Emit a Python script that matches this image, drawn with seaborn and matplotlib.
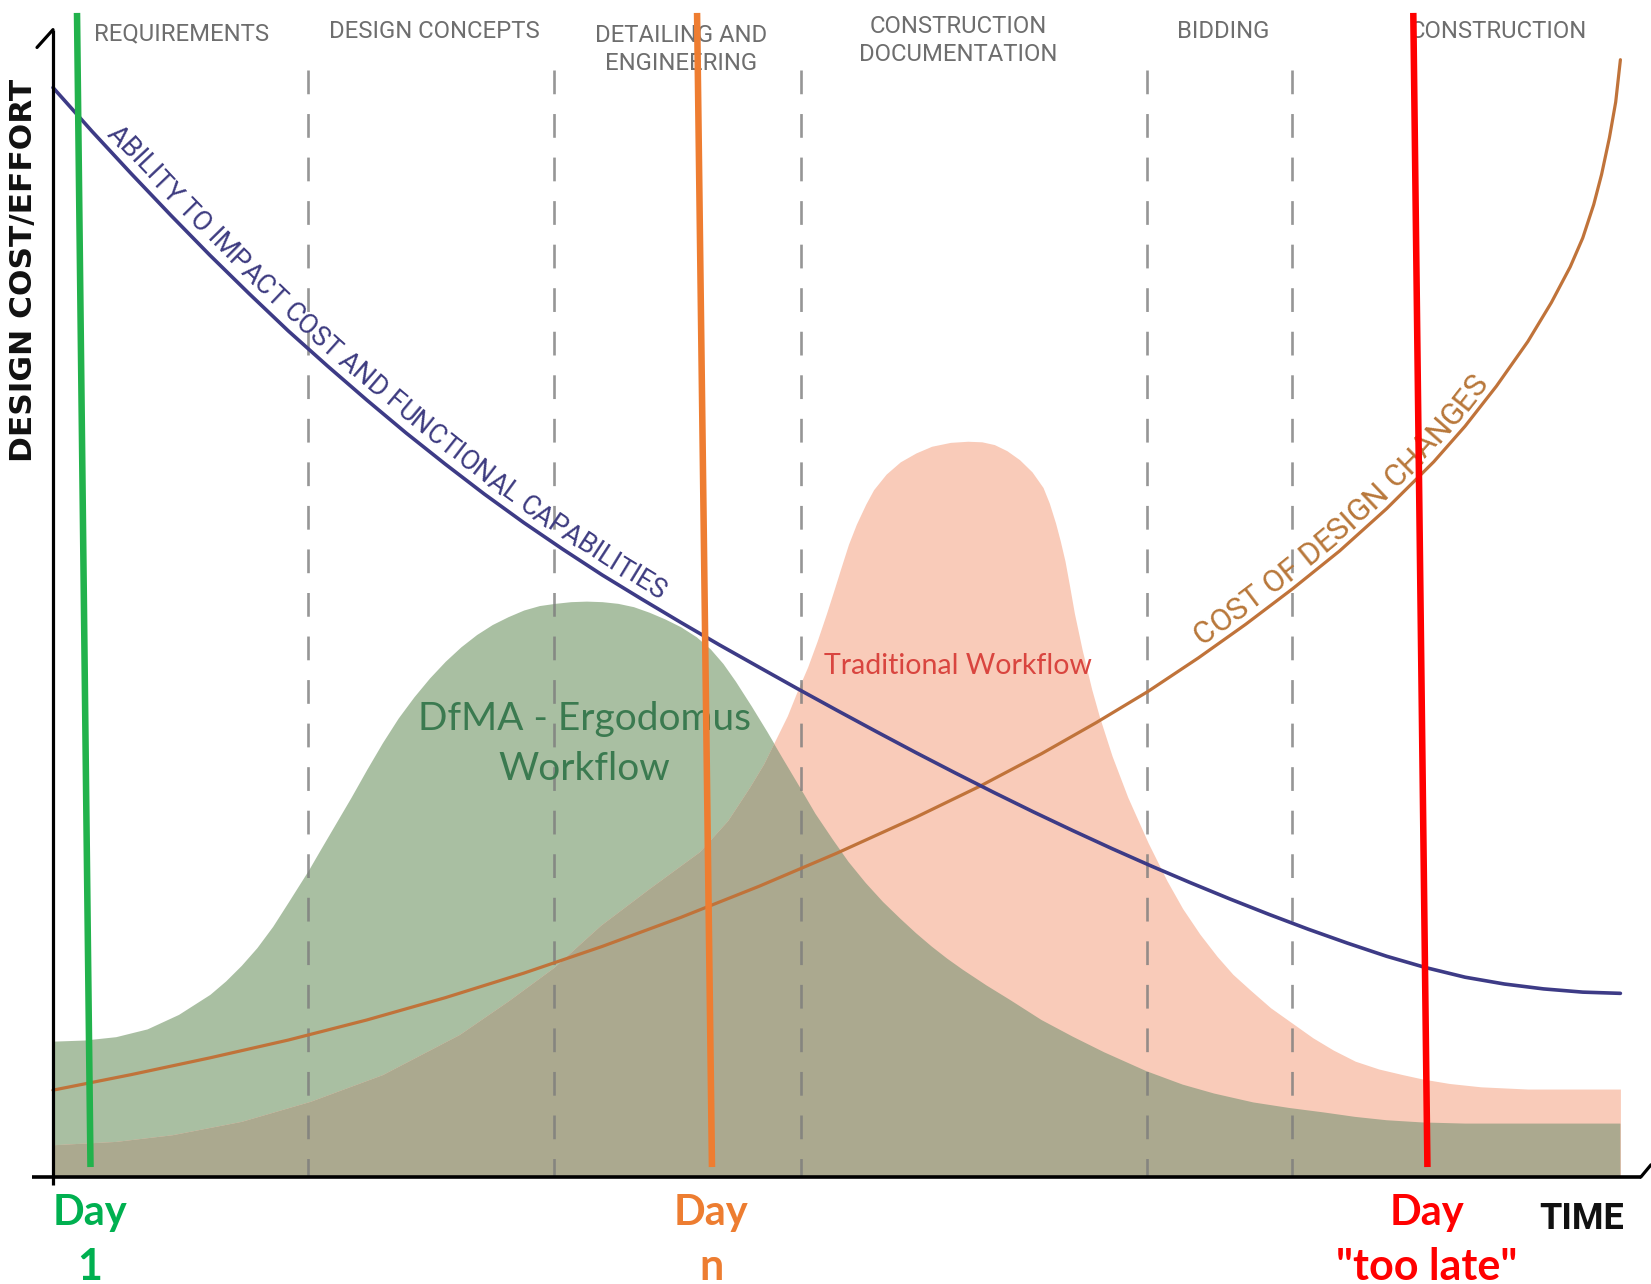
import numpy as np
import matplotlib
matplotlib.use("Agg")
import matplotlib.pyplot as plt
from matplotlib.patches import Polygon
from matplotlib.font_manager import FontProperties
import seaborn as sns

# project phases along the time axis
phase_labels = ["REQUIREMENTS", "DESIGN CONCEPTS", "DETAILING AND\nENGINEERING",
                "CONSTRUCTION\nDOCUMENTATION", "BIDDING", "CONSTRUCTION"]
phase_x = [8.2, 24.3, 40.0, 57.7, 74.6, 92.1]
phase_y = [102.6, 102.8, 101.2, 102.0, 102.8, 102.8]
phase_bounds = [16.25, 31.9, 47.7, 69.75, 79.0]

# ability to impact cost and functional capabilities
ability_t = [0, 2.5, 5, 7.5, 10, 12.5, 15, 17.5, 20, 22.5, 25, 27.5, 30, 32.5, 35, 37.5, 40,
             42.5, 45, 47.5, 50, 52.5, 55, 57.5, 60, 62.5, 65, 67.5, 70, 72.5, 75, 77.5, 80,
             82.5, 85, 87.5, 90, 92.5, 95, 97.5, 99.9]
ability_v = [97.8, 93.85, 90.05, 86.35, 82.75, 79.3, 75.95, 72.8, 69.75, 66.8, 64.0, 61.3,
             58.75, 56.35, 54.05, 51.9, 49.8, 47.75, 45.77, 43.8, 41.87, 39.97, 38.1, 36.28,
             34.5, 32.77, 31.1, 29.48, 27.92, 26.42, 24.97, 23.58, 22.25, 21.0, 19.82, 18.8,
             17.94, 17.33, 16.89, 16.6, 16.49]

# cost of design changes
cost_t = [0, 5, 10, 15, 20, 25, 30, 35, 40, 45, 50, 55, 59.1, 63, 66.5, 69.8, 73, 76, 79,
          82, 85, 88, 90, 92, 94, 95.5, 96.7, 97.5, 98.2, 98.7, 99.2, 99.6, 99.9]
cost_v = [7.8, 9.2, 10.7, 12.3, 14.1, 16.1, 18.3, 20.7, 23.3, 26.1, 29.1, 32.3, 35.1, 38.0,
          40.8, 43.6, 46.6, 49.6, 52.8, 56.2, 60.0, 64.2, 67.4, 71.0, 75.0, 78.5, 81.7, 84.3,
          87.3, 90.0, 93.3, 96.5, 100.3]

# DfMA - Ergodomus workflow effort
dfma_t = [0, 2, 4, 6, 8, 10, 11, 12, 13, 14, 15, 16.3, 17, 18, 19, 20, 21, 22, 23, 24, 25,
          26, 27, 28, 29, 30, 31, 32, 33, 34, 35, 36, 37, 38, 39, 40, 41, 41.9, 42.7, 43.5,
          44.5, 45.5, 46.5, 47.6, 48.6, 49.7, 50.7, 51.8, 52.9, 54, 55, 56, 57, 58, 59.5,
          61, 63, 65, 67, 69.7, 72, 74, 76.5, 78.8, 81, 83, 85, 87.3, 90, 92, 99.9]
dfma_v = [12.2, 12.3, 12.6, 13.3, 14.6, 16.4, 17.6, 19.0, 20.6, 22.5, 24.7, 27.6, 29.3, 31.7,
          34.1, 36.6, 39.0, 41.2, 43.1, 44.8, 46.3, 47.6, 48.7, 49.6, 50.3, 50.9, 51.3, 51.5,
          51.65, 51.7, 51.65, 51.5, 51.2, 50.7, 50.1, 49.4, 48.5, 47.4, 46.1, 44.5, 42.3,
          40.0, 37.6, 35.0, 32.6, 30.3, 28.3, 26.4, 24.7, 23.2, 21.9, 20.7, 19.6, 18.6,
          17.2, 15.9, 14.1, 12.6, 11.2, 9.5, 8.3, 7.5, 6.7, 6.2, 5.8, 5.4, 5.1, 4.9, 4.8,
          4.8, 4.8]

# traditional workflow effort
trad_t = [0, 4, 7.6, 12, 16.4, 21, 25.9, 29, 31.9, 34.9, 38, 41.2, 43.0, 44.4, 45.3, 46.1,
          46.8, 47.4, 48.1, 48.7, 49.3, 49.8, 50.2, 50.7, 51.2, 51.8, 52.3, 53.1, 54.0, 55,
          56, 57.2, 58.3, 59.2, 60, 60.8, 61.6, 62.4, 63.1, 63.5, 63.9, 64.2, 64.5, 64.8,
          65.1, 65.6, 66.2, 66.7, 67.5, 68.5, 69.8, 71, 72.0, 73.1, 74.2, 75.2, 76.3, 77.6,
          79.0, 80.3, 81.6, 83, 84.5, 86, 87.3, 89, 91, 94, 99.9]
trad_v = [2.9, 3.2, 3.8, 5.0, 6.8, 9.2, 12.8, 15.8, 18.8, 22.6, 25.9, 29.2, 32.0, 35.0, 37.1,
          39.4, 41.4, 43.5, 45.8, 48.1, 50.6, 52.8, 54.6, 56.8, 58.6, 60.4, 61.7, 63.1, 64.2,
          65.0, 65.6, 65.95, 66.05, 66.0, 65.75, 65.2, 64.4, 63.3, 61.9, 60.5, 58.7, 57.1,
          55.3, 53.0, 50.6, 47.3, 43.8, 41.3, 37.8, 34.1, 30.0, 26.6, 24.1, 21.8, 19.8, 18.2,
          16.8, 15.2, 13.8, 12.5, 11.4, 10.4, 9.7, 9.2, 8.8, 8.4, 8.1, 7.9, 7.9]

# milestone markers
day_top = [1.53, 41.05, 86.7]
day_bottom = [2.39, 42.0, 87.6]
day_word = ["Day", "Day", "Day"]
day_note = ["1", "n", '"too late"']
day_line_colors = ["#22b24c", "#ee7d31", "#ff0000"]
day_text_colors = ["#00b050", "#ed7d31", "#ff0000"]

sns.set_theme(style="white")
plt.rcParams['font.family'] = ['DejaVu Sans']

NARROW = ['Roboto', 'DejaVu Sans']
HUMAN = ['Lato', 'DejaVu Sans']

fig = plt.figure(figsize=(16.51, 12.84), dpi=100)
ax = fig.add_axes([0, 0, 1, 1])
ax.set_xlim(-3.378, 101.85)
ax.set_ylim(-9.6, 105.66)
ax.axis('off')

# workflow areas, overlap drawn as pink clipped by green
green = ax.fill_between(dfma_t, dfma_v, 0, color="#a9bfa2", lw=0, zorder=1)
pink = ax.fill_between(trad_t, trad_v, 0, color="#f9cbb9", lw=0, zorder=1)
green_shape = Polygon([(dfma_t[0], 0)] + list(zip(dfma_t, dfma_v)) + [(dfma_t[-1], 0)],
                      closed=True, transform=ax.transData)
overlap = ax.fill_between(trad_t, trad_v, 0, color="#aba98f", lw=0, zorder=2)
overlap.set_clip_path(green_shape)

# phase boundaries, dashes start at the top
for b in phase_bounds:
    ax.plot([b, b], [99.4, 0], color="#7c7c7c", lw=1.9, ls=(0, (9, 7.5)), alpha=0.8, zorder=3)

for lab, x, y in zip(phase_labels, phase_x, phase_y):
    ax.text(x, y, lab, ha='center', va='center', fontsize=17.2, color="#6e6e6e",
            family=NARROW, linespacing=1.3, zorder=3)

sns.lineplot(x=cost_t, y=cost_v, ax=ax, color="#c0733a", linewidth=2.3, zorder=4)
sns.lineplot(x=ability_t, y=ability_v, ax=ax, color="#3d3b86", linewidth=2.6, zorder=4)


def text_along(ax, xs, ys, text, start_t, offset, size, color):
    r = fig.canvas.get_renderer()
    fp = FontProperties(family=NARROW, size=size)
    pts = ax.transData.transform(np.column_stack([xs, ys]))
    s = np.concatenate([[0], np.cumsum(np.hypot(*np.diff(pts, axis=0).T))])
    s0 = np.interp(start_t, xs, s)
    base = r.get_text_width_height_descent("XX", fp, ismath=False)[0]
    pw = [r.get_text_width_height_descent("X" + text[:i] + "X", fp, ismath=False)[0] - base
          for i in range(len(text) + 1)]
    inv = ax.transData.inverted()
    for i, ch in enumerate(text):
        a = np.array([np.interp(s0 + pw[i], s, pts[:, 0]), np.interp(s0 + pw[i], s, pts[:, 1])])
        b = np.array([np.interp(s0 + pw[i + 1], s, pts[:, 0]), np.interp(s0 + pw[i + 1], s, pts[:, 1])])
        d = b - a
        if np.hypot(*d) < 1e-6 or ch == " ":
            continue
        ang = np.degrees(np.arctan2(d[1], d[0]))
        nrm = np.array([-d[1], d[0]]) / np.hypot(*d)
        x, y = inv.transform((a + b) / 2 + nrm * offset)
        ax.text(x, y, ch, fontproperties=fp, color=color, rotation=ang,
                rotation_mode='anchor', ha='center', va='baseline', zorder=5)


text_along(ax, ability_t, ability_v, "ABILITY TO IMPACT COST AND FUNCTIONAL CAPABILITIES",
           3.0, 8, 19.5, "#3d3b80")
text_along(ax, cost_t, cost_v, "COST OF DESIGN CHANGES", 73.5, 8, 22.5, "#b8773a")

ax.text(33.85, 40.1, "DfMA - Ergodomus", ha='center', va='baseline', fontsize=28,
        color="#3b7a50", family=HUMAN, zorder=5)
ax.text(33.85, 35.6, "Workflow", ha='center', va='baseline', fontsize=28,
        color="#3b7a50", family=HUMAN, zorder=5)
ax.text(57.7, 45.2, "Traditional Workflow", ha='center', va='baseline', fontsize=20.5,
        color="#d9453f", family=HUMAN, zorder=5)

# axes with hooked arrow ends
ax.plot([0, 0], [-0.7, 103.0], color="black", lw=2.3, zorder=6, solid_capstyle='butt')
ax.plot([0, -1.02], [103.0, 101.4], color="black", lw=2.3, zorder=6)
ax.plot([-1.34, 101.2], [0, 0], color="black", lw=2.6, zorder=6, solid_capstyle='butt')
ax.plot([101.2, 101.85], [0, 1.1], color="black", lw=2.3, zorder=6)

ax.text(-1.91, 81.4, "DESIGN COST/EFFORT", rotation=90, ha='center', va='center',
        fontsize=22.5, fontweight='bold', color="#111111", zorder=6)
ax.text(97.45, -3.77, "TIME", ha='center', va='center', fontsize=26, fontweight='bold',
        color="#111111", family=NARROW, zorder=6)

# milestone lines and labels
for top, bot, w, n, lc, tc in zip(day_top, day_bottom, day_word, day_note,
                                  day_line_colors, day_text_colors):
    ax.plot([top, bot], [104.5, 0.9], color=lc, lw=4.7, zorder=7, solid_capstyle='butt')
    xm = bot - 0.05
    ax.text(xm, -4.3, w, ha='center', va='baseline', fontsize=30, fontweight='bold',
            color=tc, family=HUMAN, zorder=7)
    ax.text(xm, -9.25, n, ha='center', va='baseline', fontsize=31, fontweight='bold',
            color=tc, family=HUMAN, zorder=7)

fig.savefig("out.png", dpi=100, facecolor="white")
